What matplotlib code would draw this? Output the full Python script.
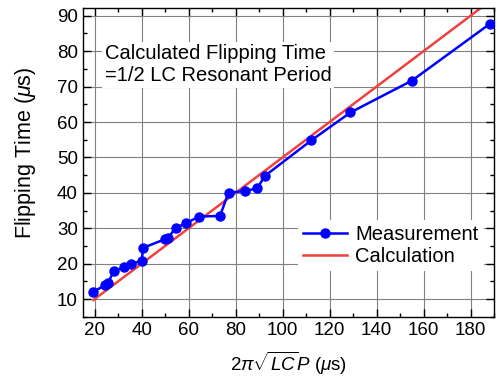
import matplotlib.pyplot as plt
from matplotlib.ticker import MultipleLocator

plt.rcParams['font.family'] = ['Liberation Sans', 'DejaVu Sans']
plt.rcParams['mathtext.fontset'] = 'custom'
plt.rcParams['mathtext.rm'] = 'Liberation Sans'
plt.rcParams['mathtext.it'] = 'Liberation Sans:italic'

# measured flipping time vs 2*pi*sqrt(L*Cp)
meas_x = [19.5, 24.4, 25.8, 28.1, 32.5, 35.3, 40.0, 40.7, 49.9, 51.2, 54.5,
          59.1, 64.4, 73.4, 77.0, 84.1, 89.2, 92.5, 112.2, 128.9, 155.1, 188.2]
meas_y = [12.1, 13.9, 14.6, 17.9, 19.0, 19.9, 20.8, 24.5, 26.9, 27.2, 30.1,
          31.5, 33.3, 33.5, 40.1, 40.5, 41.3, 44.8, 54.8, 62.7, 71.7, 87.7]

# calculated = half of the LC resonant period
calc_x = [19.5, 188.2]
calc_y = [9.75, 94.1]

fig = plt.figure(figsize=(4.99, 3.79), dpi=100)
ax = fig.add_axes([0.166, 0.164, 0.824, 0.815])

ax.plot(meas_x, meas_y, color='#0000ff', lw=1.8, marker='o', ms=6.5,
        label='Measurement', zorder=3)
ax.plot(calc_x, calc_y, color='#f04040', lw=1.8, label='Calculation', zorder=2)

ax.set_xlim(15, 190)
ax.set_ylim(5, 92.2)
ax.xaxis.set_major_locator(MultipleLocator(20))
ax.xaxis.set_minor_locator(MultipleLocator(10))
ax.yaxis.set_major_locator(MultipleLocator(10))
ax.yaxis.set_minor_locator(MultipleLocator(5))
ax.tick_params(which='both', direction='in', top=True, right=True, labelsize=13.5)
ax.tick_params(which='major', length=6, width=1)
ax.tick_params(which='minor', length=3, width=1)
ax.grid(True, which='major', color='#808080', lw=0.8)
ax.set_axisbelow(True)
for s in ax.spines.values():
    s.set_linewidth(1)

ax.set_xlabel(r'$2\pi\sqrt{LC}$$P$ ($\mu$s)', fontsize=13.5, labelpad=8)
ax.set_ylabel(r'Flipping Time ($\mu$s)', fontsize=15.5, labelpad=14)
ax.yaxis.label.set_y(0.53)

ax.text(0.0535, 0.882, 'Calculated Flipping Time\n=1/2 LC Resonant Period',
        transform=ax.transAxes, ha='left', va='top', fontsize=14.5,
        bbox=dict(facecolor='white', edgecolor='none', pad=2), zorder=4)

leg = ax.legend(loc='upper left', bbox_to_anchor=(0.523, 0.315), fontsize=14.5,
                frameon=True, fancybox=False, framealpha=1, edgecolor='none',
                handlelength=2.2, handletextpad=0.4, borderpad=0.25,
                borderaxespad=0, labelspacing=0.15)
leg.set_zorder(5)

plt.savefig('out.png', dpi=100)
